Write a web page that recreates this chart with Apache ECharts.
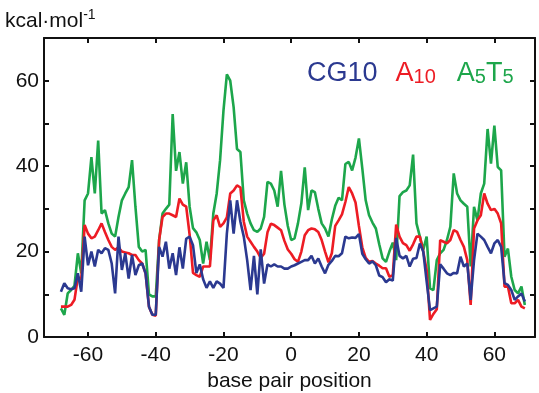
<!DOCTYPE html>
<html>
<head>
<meta charset="utf-8">
<script src="https://cdn.jsdelivr.net/npm/echarts@6/dist/echarts.min.js"></script>
<style>
  html, body { margin: 0; padding: 0; background: #ffffff; }
  #chart { width: 539px; height: 393px; }
</style>
</head>
<body>
<div id="chart"></div>
<script>
// base pair positions (first and last plotted position)
const firstPosition = -68;
const lastPosition = 69;

// tick values
const xTickValues = [-60, -40, -20, 0, 20, 40, 60];
const yTickLabels = [0, 20, 40, 60];

// series names
const seriesNames = ['CG10', 'A10', 'A5T5'];

// A5T5 (green), positions -68 .. 69
const valuesA5T5 = [
  6.7, 5.2, 10.2, 11, 12, 19.6, 14.9, 32, 33.6, 42.1,
  33.6, 46, 28.9, 29.7, 26.6, 24.2, 23.5, 28.1, 32, 33.6,
  35.1, 41.4, 30.5, 21.1, 20, 20.4, 10, 9.5, 9.5, 22.7,
  28.9, 30, 31, 52.2, 38.9, 43.3, 35.9, 40.9, 30.5, 25.5,
  24.5, 22.7, 17.2, 22.3, 18, 28.9, 33.6, 41.4, 53, 61.5,
  60, 53.8, 44, 43.3, 32, 28.9, 26.6, 25, 24.6, 25.4,
  28.1, 36.3, 35.9, 34.3, 30.5, 38.9, 31, 26, 22.7, 23.1,
  26.6, 31.3, 39.7, 29.7, 34.3, 33.9, 30, 26.6, 25.4, 23.5,
  27.5, 30.7, 32.6, 32, 40.5, 41, 39, 42, 46.5, 39.5,
  32, 28.5, 26.8, 25.4, 21.7, 18.4, 17.6, 20, 22.1, 18,
  33, 33.9, 34.3, 35.5, 42.7, 26.6, 23.5, 20.4, 23.5, 11.4,
  11, 18, 19.6, 20.4, 22.7, 25.8, 38.3, 33.6, 32, 31.2,
  30.5, 16.5, 30.5, 27.3, 33.6, 35.9, 48.7, 40.6, 49.5, 39.8,
  39, 18.8, 20.7, 14.1, 11, 10.2, 11.8, 7.5
];

// A10 (red), positions -68 .. 69
const valuesA10 = [
  7.1, 7.1, 7.1, 7.5, 8.7, 14, 13.5, 26.2, 24.2, 23.1,
  23.5, 25, 26.6, 24.6, 22.7, 21.1, 20.4, 21, 20, 19.8,
  19.6, 19.2, 19.2, 18, 17.2, 14.9, 7.1, 5.2, 5, 22.7,
  28.1, 28.9, 28.9, 28.5, 28.1, 32.4, 31, 30.5, 24, 15,
  14.5, 14.1, 16.5, 16.5, 16.5, 27.3, 28.5, 25.8, 26.6, 28,
  33.6, 34.3, 35.5, 35, 27, 23.5, 22.3, 21.1, 20, 18.5,
  19.5, 24.5, 26.5, 26.2, 25.6, 25, 22.5, 20.5, 19.5, 18.2,
  17.6, 20, 23.8, 25, 25.4, 25.2, 24.6, 22.7, 20, 17.5,
  19.6, 26, 27.3, 28.7, 31.6, 35.1, 33.6, 31.5, 26, 21,
  18.5, 17.6, 17.8, 17.2, 16.7, 16.1, 16.1, 14.1, 14.5, 26.3,
  23.5, 22, 21.5, 20.2, 21.7, 23.5, 23.5, 20, 15.7, 4,
  5.4, 6.5, 22.7, 22.3, 21.9, 22.7, 25, 24.6, 22.7, 21.1,
  18, 7.5, 25.4, 27.3, 28.5, 33.6, 31.2, 29.7, 30, 28.9,
  26.6, 11.8, 11.8, 7.9, 7.9, 8.7, 7.1, 6.7
];

// CG10 (blue), positions -68 .. 69
const valuesCG10 = [
  10.6, 12.6, 11.4, 11.2, 11.4, 14.9, 10.6, 23.5, 16.8, 20,
  16.5, 20.4, 19.6, 20.8, 20.4, 17.2, 10.2, 23.5, 15.7, 19.6,
  13.7, 19.2, 14.5, 16.8, 17.2, 14.9, 7.1, 5.2, 5.2, 21.1,
  18.8, 22.3, 16, 19.6, 14.5, 21, 16, 23, 23.5, 21.5,
  15, 17, 13.5, 11.5, 13, 11.5, 13, 12.5, 11.5, 24.2,
  32, 24.2, 32, 27, 23.5, 18, 11, 19, 10, 20.5,
  12.5, 17, 16.5, 17, 16.5, 16.5, 16, 16, 16.5, 16.8,
  17.2, 17.6, 18, 18, 19, 17.2, 18.4, 16.5, 14.9, 16.9,
  17.8, 19, 18.9, 19.6, 23.5, 23.1, 23.3, 23.2, 24.1, 19.5,
  18.2, 17.2, 17.7, 16.8, 14.4, 14, 12.8, 13.5, 13.2, 23.2,
  19, 18.4, 19, 16.5, 18.3, 18.5, 21.9, 20, 13, 6.3,
  6.7, 7.1, 17, 16, 14.9, 14.5, 15, 14.9, 18.8, 16.5,
  17.2, 8.7, 18, 24.2, 23.5, 22.7, 21.1, 19.6, 21.9, 22.7,
  21.1, 12.6, 12.2, 11, 8.7, 9.5, 10.2, 8.3
];

function pairUp(values) {
  const out = [];
  for (let i = 0; i < values.length; i++) {
    out.push([firstPosition + i, values[i]]);
  }
  return out;
}

const FONT = '"Liberation Sans", Arial, Helvetica, sans-serif';
const BLUE = '#2B3990';
const RED = '#ED1C24';
const GREEN = '#1DA64B';
const AXIS = '#111111';

const chart = echarts.init(document.getElementById('chart'), null, { renderer: 'canvas' });

const axisLineStyle = { color: AXIS, width: 2 };

const option = {
  animation: false,
  backgroundColor: '#ffffff',
  grid: { left: 44, right: 4, top: 38, bottom: 56, containLabel: false, outerBoundsMode: 'none' },
  xAxis: [
    {
      type: 'value', min: -73, max: 72, position: 'bottom',
      axisLine: { show: true, onZero: false, lineStyle: axisLineStyle },
      axisTick: { show: true, inside: true, length: 5, customValues: xTickValues, lineStyle: axisLineStyle },
      axisLabel: { customValues: xTickValues, color: AXIS, fontSize: 21, fontFamily: FONT, margin: 8 },
      splitLine: { show: false },
      name: 'base pair position', nameLocation: 'middle', nameGap: 34,
      nameTextStyle: { color: AXIS, fontSize: 21, fontFamily: FONT }
    },
    {
      type: 'value', min: -73, max: 72, position: 'top',
      axisLine: { show: true, onZero: false, lineStyle: axisLineStyle },
      axisTick: { show: true, inside: true, length: 5, customValues: xTickValues, lineStyle: axisLineStyle },
      axisLabel: { show: false },
      splitLine: { show: false }
    }
  ],
  yAxis: [
    {
      type: 'value', min: 0, max: 70, interval: 10, position: 'left',
      axisLine: { show: true, onZero: false, lineStyle: axisLineStyle },
      axisTick: { show: true, inside: true, length: 5, lineStyle: axisLineStyle },
      axisLabel: {
        color: AXIS, fontSize: 21, fontFamily: FONT, margin: 5,
        formatter: function (v) { return yTickLabels.indexOf(v) >= 0 ? String(v) : ''; }
      },
      splitLine: { show: false }
    },
    {
      type: 'value', min: 0, max: 70, interval: 10, position: 'right',
      axisLine: { show: true, onZero: false, lineStyle: axisLineStyle },
      axisTick: { show: true, inside: true, length: 5, lineStyle: axisLineStyle },
      axisLabel: { show: false },
      splitLine: { show: false }
    }
  ],
  series: [
    { name: seriesNames[2], type: 'line', data: pairUp(valuesA5T5), showSymbol: false, symbol: 'none',
      lineStyle: { color: GREEN, width: 2.6 }, itemStyle: { color: GREEN }, z: 2 },
    { name: seriesNames[1], type: 'line', data: pairUp(valuesA10), showSymbol: false, symbol: 'none',
      lineStyle: { color: RED, width: 2.6 }, itemStyle: { color: RED }, z: 3 },
    { name: seriesNames[0], type: 'line', data: pairUp(valuesCG10), showSymbol: false, symbol: 'none',
      lineStyle: { color: BLUE, width: 2.6 }, itemStyle: { color: BLUE }, z: 4 }
  ],
  graphic: [
    {
      type: 'text', left: 5, top: 8,
      style: {
        text: '{m|kcal·mol}{s|-1}',
        fill: AXIS,
        rich: {
          m: { fontSize: 21, fontFamily: FONT, fill: AXIS, lineHeight: 26 },
          s: { fontSize: 14, fontFamily: FONT, fill: AXIS, lineHeight: 14, verticalAlign: 'top' }
        }
      }
    },
    {
      type: 'text', left: 307, top: 60,
      style: {
        text: '{b|CG10}{r|A}{rs|10}{g|A}{gs|5}{g2|T}{gs|5}',
        rich: {
          b: { fontSize: 27, fontFamily: FONT, fill: BLUE, lineHeight: 27 },
          r: { fontSize: 27, fontFamily: FONT, fill: RED, lineHeight: 27, padding: [0, 0, 0, 18] },
          rs: { fontSize: 20, fontFamily: FONT, fill: RED, lineHeight: 18, verticalAlign: 'bottom' },
          g: { fontSize: 27, fontFamily: FONT, fill: GREEN, lineHeight: 27, padding: [0, 0, 0, 21] },
          g2: { fontSize: 27, fontFamily: FONT, fill: GREEN, lineHeight: 27 },
          gs: { fontSize: 20, fontFamily: FONT, fill: GREEN, lineHeight: 18, verticalAlign: 'bottom' }
        }
      }
    }
  ]
};

chart.setOption(option);
</script>
</body>
</html>
